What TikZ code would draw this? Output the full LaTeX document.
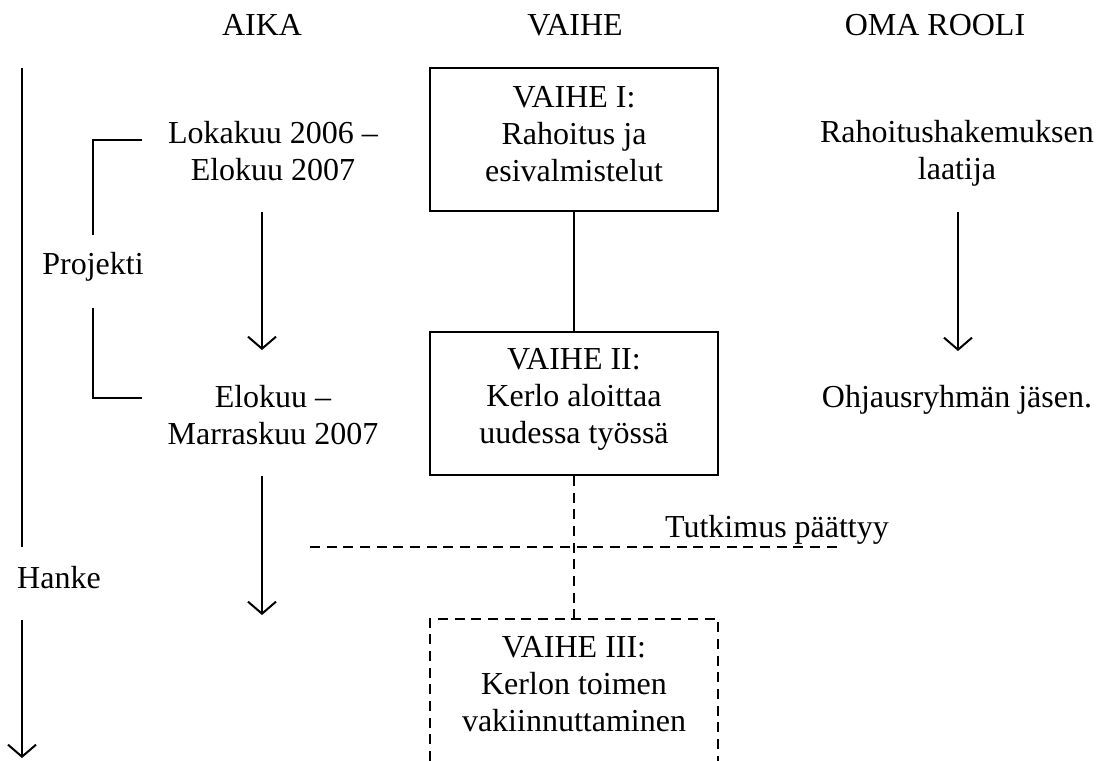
\documentclass[tikz,border=0pt]{standalone}
\usepackage{fontspec}
\setmainfont{Liberation Serif}
\usetikzlibrary{arrows.meta}
\begin{document}
\begin{tikzpicture}[x=0.375pt,y=-0.375pt,
  txt/.style={font=\fontsize{12}{13.9}\selectfont, inner sep=0pt, align=center},
  ln/.style={line width=0.75pt},
  arr/.style={ln, -{Straight Barb[length=4.5pt,width=10.5pt,line width=0.75pt]}},
  dsh/.style={ln, dash pattern=on 3.75pt off 2.5pt},
  phasebox/.style={draw, line width=0.75pt, inner sep=0pt,
    minimum width=108pt, minimum height=53.6pt}]
\useasboundingbox (0,0) rectangle (1097,761);

% column headings
\node[txt] (hAika)  at (262,25) {AIKA};
\node[txt] (hVaihe) at (575,25) {VAIHE};
\node[txt] (hRooli) at (935,25) {OMA ROOLI};

% time column
\node[txt] (aika1) at (273,151.5) {Lokakuu 2006 --\\Elokuu 2007};
\node[txt] (aika2) at (273,415) {Elokuu --\\Marraskuu 2007};
\coordinate (a1s) at (262,212);
\coordinate (a1e) at (262,350);
\coordinate (a2s) at (262,476);
\coordinate (a2e) at (262,615);
\draw[arr] (a1s) -- (a1e);
\draw[arr] (a2s) -- (a2e);

% project bracket
\node[txt] (proj) at (93,267) {Projekti};
\coordinate (b1) at (142,140);
\coordinate (b2) at (93,235);
\coordinate (b3) at (93,308);
\coordinate (b4) at (142,398);
\draw[ln] (b1) -| (b2);
\draw[ln] (b3) |- (b4);

% whole undertaking axis
\node[txt] (hanke) at (59,578) {Hanke};
\coordinate (h1) at (22,68);
\coordinate (h2) at (22,547);
\coordinate (h3) at (22,620);
\coordinate (h4) at (22,758);
\draw[ln] (h1) -- (h2);
\draw[arr] (h3) -- (h4);

% phases
\node[phasebox] (v1) at (574,139.5) {};
\node[txt] (v1t) at (574,134.5) {VAIHE I:\\Rahoitus ja\\esivalmistelut};
\node[phasebox] (v2) at (574,403.5) {};
\node[txt] (v2t) at (574,399.5) {VAIHE II:\\Kerlo aloittaa\\uudessa työssä};
\draw[ln] (v1.south) -- (v2.north);

\coordinate (v3top) at (574,619);
\coordinate (v3a) at (430,761);
\coordinate (v3b) at (430,619);
\coordinate (v3c) at (718,619);
\coordinate (v3d) at (718,761);
\draw[dsh] (v3a) -- (v3b) -- (v3c) -- (v3d);
\node[txt] (v3t) at (574,684) {VAIHE III:\\Kerlon toimen\\vakiinnuttaminen};
\draw[dsh] (v2.south) -- (v3top);

% end of the study
\coordinate (tL) at (310,547);
\coordinate (tR) at (837,547);
\draw[dsh] (tL) -- (tR);
\node[txt] (tut) at (777,530) {Tutkimus päättyy};

% own role column
\node[txt] (rooli1) at (957,153.5) {Rahoitushakemuksen\\laatija};
\node[txt] (rooli2) at (957,400) {Ohjausryhmän jäsen.};
\coordinate (r1s) at (958,212);
\coordinate (r1e) at (958,351);
\draw[arr] (r1s) -- (r1e);
\end{tikzpicture}
\end{document}
